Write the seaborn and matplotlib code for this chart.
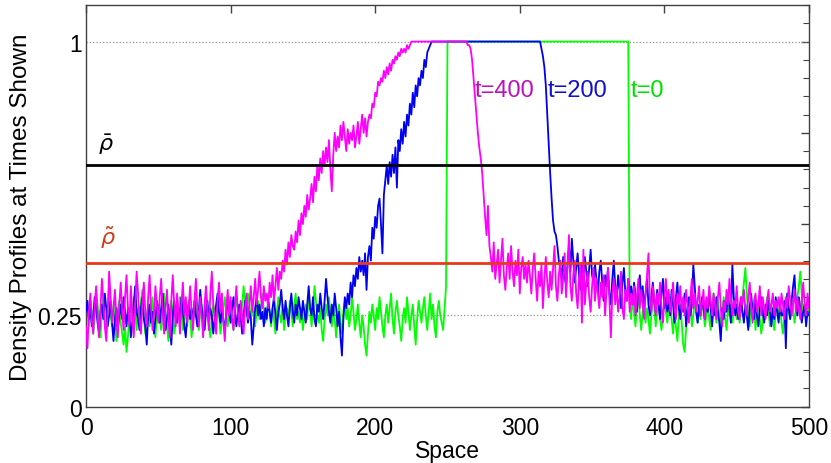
import numpy as np
import pandas as pd
import matplotlib
matplotlib.use("Agg")
import matplotlib.pyplot as plt
from matplotlib.ticker import MultipleLocator, FixedLocator, FixedFormatter
import seaborn as sns

# ---------------- data (densities in percent) ----------------
# t=0 (green)
G_left = [
    24,27,22,29,26,20,25,31,28,23,19,26,30,24,21,27,33,25,22,28,24,18,26,29,23,
    20,17,22,15,19,25,28,24,30,26,21,27,23,29,32,25,20,24,28,22,26,30,23,19,25,
    28,24,21,27,31,25,22,18,24,29,26,20,23,28,25,30,27,21,24,26,22,29,25,19,23,
    27,30,24,21,26,28,23,25,31,27,22,19,24,28,26,23,29,25,20,24,27,30,26,22,25,
    29,24,21,26,30,27,23,25,28,33,29,26,31,28,24,27,25,22,26,29,24,27,31,26,23,
    25,29,26,22,27,24,20,26,30,25,23,28,21,25,27,24,29,26,22,28,31,24,26,23,27,
    21,25,28,24,30,27,22,26,33,29,25,23,27,21,18,24,28,25,30,26,22,27,24,19,25,
    28,23,20,26,29,24,27,22,25,30,26,21,24,28,23,19,25,22,17,14,20,26,23,28,25,
    21,27,24,30,26,22,19,25,28,23,27,31,24,20,26,29,25,22,18,24,27,23,30,26,21,
    25,28,22,17,24,29,26,23,27,30,25,21,26,31,24,28,22,19,26,29,25,23,21,27,33,
]
G_top = [100, 100]
G_right = [
    28,24,30,26,22,27,31,25,21,26,29,23,27,24,20,25,30,27,22,26,28,24,21,25,29,
    26,23,27,30,24,20,26,22,18,25,28,23,17,15,21,26,24,28,22,25,29,26,23,27,24,
    30,26,22,25,28,24,21,27,31,26,23,29,25,22,26,30,24,21,27,25,28,23,26,29,24,
    27,23,26,30,34,38,31,25,22,27,24,28,21,26,29,24,20,23,27,25,30,26,22,28,24,
    21,26,29,24,27,23,20,25,28,31,26,24,29,27,23,26,30,33,37,31,25,28,24,27,26,
]

# t=200 (blue)
B_left = [
    26,29,24,27,22,25,30,27,23,20,26,28,24,31,27,22,25,29,23,18,24,27,21,25,28,
    24,30,26,22,27,25,19,23,28,33,26,24,21,27,30,24,22,17,25,28,23,26,20,24,29,
    26,23,27,31,25,21,24,28,22,17,25,29,26,23,27,24,30,26,22,19,25,28,24,27,23,
    29,25,22,26,32,27,24,21,26,29,23,27,25,20,24,28,31,26,23,27,24,21,25,29,26,
    23,27,30,25,22,26,28,24,20,25,29,27,23,26,24,17,22,27,30,25,28,24,26,22,27,
    24,29,26,23,27,30,25,21,26,28,32,27,24,29,25,22,27,31,26,23,28,25,30,27,24,
    29,26,23,28,33,27,25,30,24,22,28,26,31,27,24,29,35,30,26,23,28,25,31,27,22,
    26,19,14,24,30,27,
]
B_ramp = [
    31,28,34,30,36,33,38,35,41,37,
    40,36,42,32,41,44,40,49,46,52,
    49,55,57,50,42,58,62,66,61,67,
    63,69,64,71,60,73,70,76,72,78,
    74,80,77,83,80,86,82,88,85,90,
    88,92,90,95,93,97,98,99,100,
]
B_top = [100, 100]
B_drop = [98, 96, 93, 88, 80, 72, 64, 57, 51, 48, 47, 44, 40]
B_right = [
    38,35,41,36,33,39,44,37,46,40,34,38,42,36,32,39,35,41,37,33,38,43,36,34,39,
    35,31,37,40,34,29,36,33,38,31,28,35,40,33,30,36,32,27,34,38,31,29,35,30,33,
    28,34,31,26,32,36,29,33,27,31,35,28,25,30,34,29,26,32,28,24,31,35,27,30,26,
    29,25,32,28,23,30,34,27,24,29,26,31,22,27,30,25,28,39,33,26,23,28,25,30,27,
    24,29,26,31,27,22,28,25,30,26,23,18,27,24,29,26,31,27,23,39,30,25,28,24,27,
    30,26,23,28,25,21,27,31,26,24,29,25,22,27,30,26,23,28,25,29,26,22,27,24,30,
    26,23,28,25,25,29,16,31,27,24,29,33,36,28,25,30,27,23,26,28,22,26,25,
]

# t=400 (magenta)
M_left = [
    22,16,26,31,24,20,28,33,25,19,27,35,29,22,18,26,37,30,23,27,32,24,19,28,34,
    26,21,30,36,27,22,33,25,19,28,37,31,24,20,29,34,26,22,30,36,27,21,25,33,28,
    23,30,35,26,20,27,32,24,19,29,36,28,22,31,26,20,28,34,25,30,23,27,33,26,21,
    29,35,27,22,30,25,19,28,33,26,21,31,37,28,24,20,29,34,26,31,23,18,27,32,25,
    30,24,21,28,33,26,22,29,25,20,27,31,24,28,33,26,30,35,28,32,37,30,27,33,29,
]
M_ramp = [
    31,27,34,30,36,29,33,38,32,37,
    35,40,37,43,39,45,41,47,44,43,
    48,45,51,47,53,50,55,52,58,54,
    57,61,56,63,59,66,62,68,64,70,
    66,71,67,73,65,59,69,75,70,74,
    71,77,73,78,74,70,76,72,75,73,
    77,71,74,78,72,76,80,75,79,74,
    78,80,79,83,82,86,85,89,88,90,
    89,92,90,93,91,94,92,95,94,96,
    95,97,96,98,97,98,97,99,98,99,100,
]
M_top = [100, 100]
M_drop = [99, 99, 98, 95, 90, 85, 80, 75, 71, 68, 64, 58, 52, 47, 55, 44]
M_right = [
    41,37,45,35,39,43,34,40,46,36,32,38,42,35,44,37,33,40,36,43,31,38,41,35,39,
    34,40,36,31,38,42,35,29,37,33,39,27,35,41,34,30,37,32,38,44,33,29,36,40,31,
    35,42,30,38,47,33,29,36,40,31,27,35,39,23,43,28,34,37,30,26,33,38,29,35,31,
    27,34,30,36,25,32,38,29,19,31,35,28,33,26,30,37,27,24,32,29,35,26,31,28,33,
    25,30,35,27,32,28,24,31,36,42,29,26,33,30,25,31,28,34,27,23,30,35,28,32,26,
    29,34,27,24,31,28,33,26,30,25,32,28,23,30,35,27,31,26,29,33,25,28,32,24,30,
    27,33,29,25,31,28,24,30,34,27,22,29,26,32,28,35,30,25,29,27,33,26,24,30,28,
    32,27,25,30,34,28,23,29,31,26,28,33,25,30,27,24,29,32,26,28,31,25,29,27,30,
    26,31,28,24,30,27,33,29,25,28,32,26,30,27,24,29,34,28,25,31,27,
]

RHO_BAR = 0.662
RHO_TILDE = 0.393
labels = ["t=400", "t=200", "t=0"]


def build(segments):
    xs, ys = [], []
    for x0, x1, vals in segments:
        xs.append(np.linspace(x0, x1, len(vals)))
        ys.append(np.asarray(vals, dtype=float) / 100.0)
    return pd.DataFrame({"Space": np.concatenate(xs), "Density": np.concatenate(ys)})


green = build([(0, 249, G_left), (250, 375, G_top), (376, 500, G_right)])
blue = build([(0, 180, B_left), (181, 239, B_ramp), (240, 314, B_top),
              (315, 327, B_drop), (328, 500, B_right)])
magenta = build([(0, 124, M_left), (125, 225, M_ramp), (226, 263, M_top),
                 (264, 279, M_drop), (280, 500, M_right)])

# ---------------- style ----------------
sns.set_style("white")
plt.rcParams["font.family"] = ["Liberation Sans", "DejaVu Sans"]
plt.rcParams["mathtext.fontset"] = "dejavusans"

fig = plt.figure(figsize=(8.31, 4.64), dpi=100)
ax = fig.add_axes([0.1035, 0.1213, 0.870, 0.8657])

ax.plot([0, 500], [1, 1], ls=":", color="#909090", lw=0.9, zorder=1)
ax.plot([0, 500], [0.25, 0.25], ls=":", color="#909090", lw=0.9, zorder=1)

lw = 1.3
sns.lineplot(data=green, x="Space", y="Density", color="#00FF00", lw=lw,
             estimator=None, sort=False, ax=ax, zorder=2)
sns.lineplot(data=blue, x="Space", y="Density", color="#0000F0", lw=lw,
             estimator=None, sort=False, ax=ax, zorder=3)
sns.lineplot(data=magenta, x="Space", y="Density", color="#FF00FF", lw=lw,
             estimator=None, sort=False, ax=ax, zorder=4)

ax.axhline(RHO_BAR, color="black", lw=2.0, zorder=5)
ax.axhline(RHO_TILDE, color="#E8391A", lw=2.0, zorder=5)

ax.text(269, 0.868, labels[0], color="#BB10BB", fontsize=17, va="center", ha="left")
ax.text(319.5, 0.866, labels[1], color="#1010C8", fontsize=17, va="center", ha="left")
ax.text(376.5, 0.866, labels[2], color="#00E000", fontsize=17, va="center", ha="left")
ax.text(13.8, 0.72, r"$\bar{\rho}$", color="black", fontsize=16, ha="center", va="center")
ax.text(14.9, 0.465, r"$\tilde{\rho}$", color="#D03A1A", fontsize=16, ha="center", va="center")

ax.set_xlim(0, 500)
ax.set_ylim(0, 1.1)
ax.xaxis.set_major_locator(FixedLocator([0, 100, 200, 300, 400, 500]))
ax.yaxis.set_major_locator(FixedLocator([0, 0.25, 0.5, 0.75, 1.0]))
ax.yaxis.set_major_formatter(FixedFormatter(["0", "0.25", "", "", "1"]))
ax.yaxis.set_minor_locator(MultipleLocator(0.05))
ax.tick_params(axis="both", which="both", direction="in", top=True, right=True,
               labelsize=16.5, colors="#404040", labelcolor="black")
ax.tick_params(axis="both", which="major", length=6, width=1.0)
ax.tick_params(axis="y", which="minor", length=4, width=0.8)
ax.tick_params(axis="x", pad=6.5)
ax.tick_params(axis="y", pad=3)
for s in ax.spines.values():
    s.set_color("#404040")
    s.set_linewidth(1.0)

ax.set_xlabel("Space", fontsize=16.5, labelpad=0, color="black")
ax.set_ylabel("Density Profiles at Times Shown", fontsize=17.5, labelpad=4, color="black")

fig.savefig("out.png", dpi=100)
